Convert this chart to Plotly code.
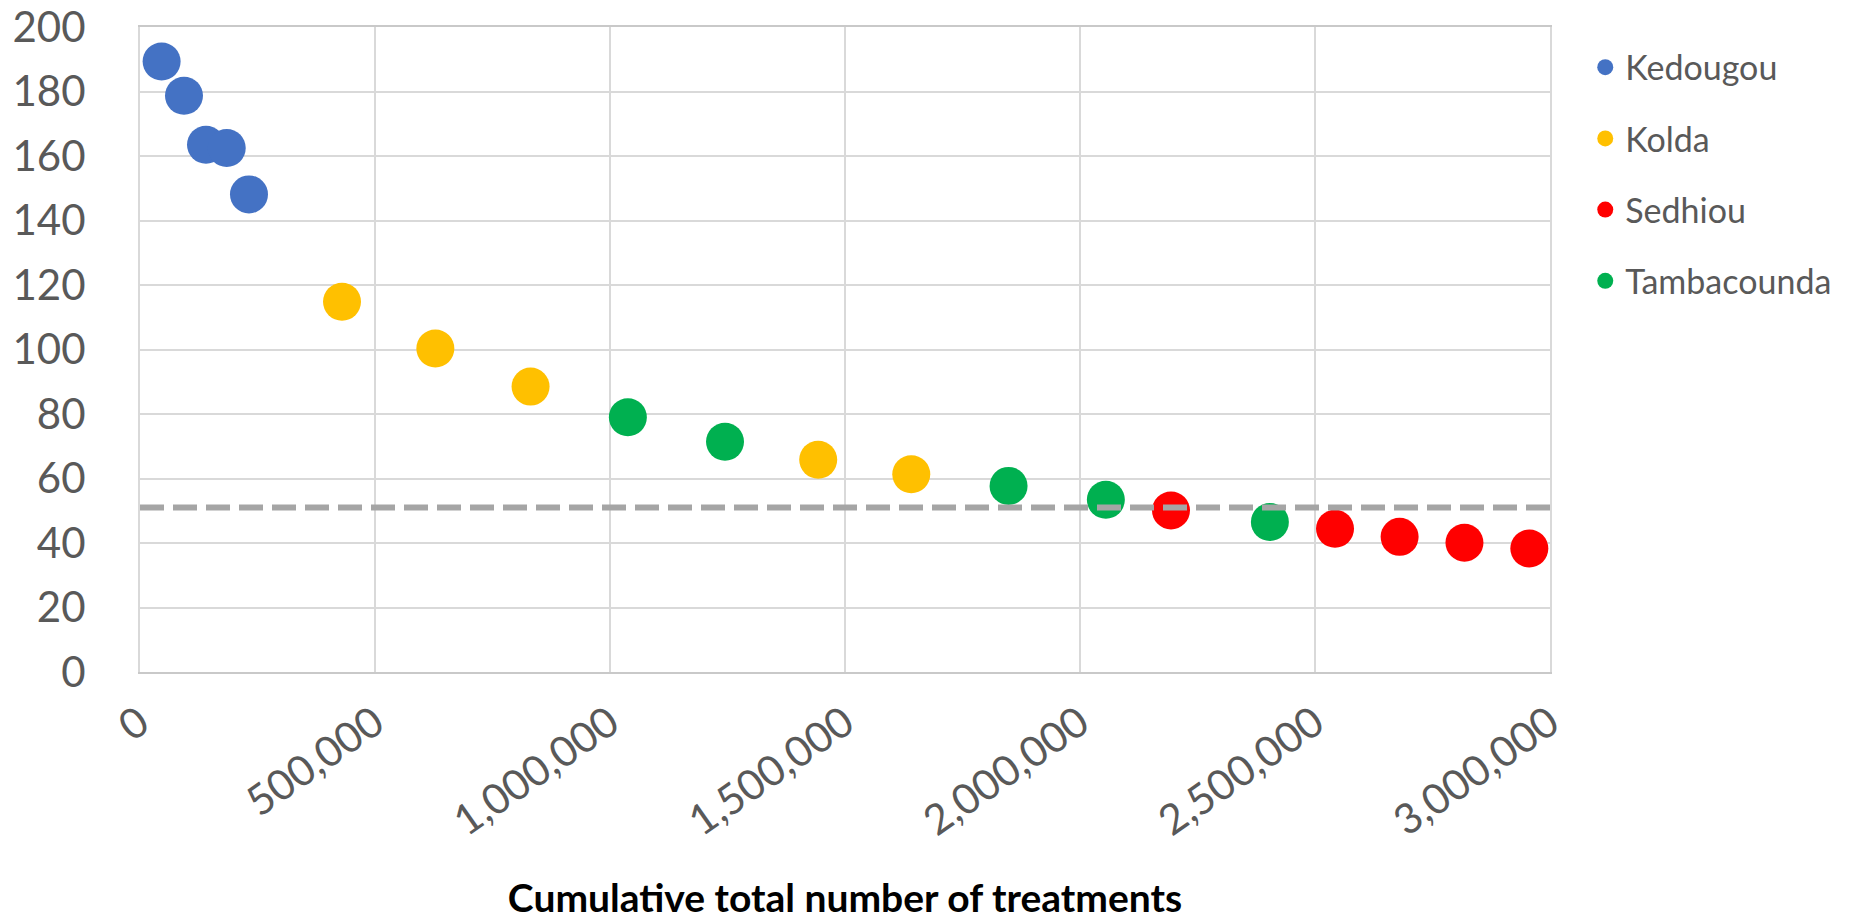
import plotly.graph_objects as go

# Cumulative treatments (x) and value per district (y)
kedougou_x = [46000, 93600, 140400, 184500, 231900]
kedougou_y = [189.3, 178.7, 163.5, 162.5, 148.1]

kolda_x = [429800, 628400, 831000, 1443000, 1641000]
kolda_y = [114.8, 100.3, 88.5, 65.8, 61.3]

sedhiou_x = [2193600, 2542600, 2680000, 2818000, 2956000]
sedhiou_y = [50.1, 44.4, 41.9, 40.1, 38.3]

tamba_x = [1038000, 1244700, 1848000, 2055000, 2404000]
tamba_y = [79.0, 71.4, 57.7, 53.4, 46.5]

threshold_x = [0, 3000000]
threshold_y = [51, 51]

x_ticks = [0, 500000, 1000000, 1500000, 2000000, 2500000, 3000000]
y_ticks = [0, 20, 40, 60, 80, 100, 120, 140, 160, 180, 200]

FONT = "Lato"
TEXT = "#595959"
GRID = "#D9D9D9"

series = [
    ("Kedougou", kedougou_x, kedougou_y, "#4472C4"),
    ("Kolda", kolda_x, kolda_y, "#FFC000"),
    ("Sedhiou", sedhiou_x, sedhiou_y, "#FF0000"),
    ("Tambacounda", tamba_x, tamba_y, "#00B050"),
]

fig = go.Figure()
for name, xs, ys, color in series:
    fig.add_trace(go.Scatter(
        x=xs, y=ys, name=name, mode="markers", legendgroup=name,
        marker=dict(size=38, color=color, line=dict(width=0)),
    ))

# Reference level drawn on top of the markers
fig.add_trace(go.Scatter(
    x=threshold_x, y=threshold_y, mode="lines", showlegend=False,
    line=dict(color="#A5A5A5", width=6, dash="24px,9px"),
    hoverinfo="skip",
))

fig.update_layout(
    width=1850, height=920,
    margin=dict(l=140, r=300, t=27, b=248, autoexpand=False),
    plot_bgcolor="white", paper_bgcolor="white",
    font=dict(family=FONT, color=TEXT),
    legend=dict(
        x=1.025, xanchor="left", y=0.982, yanchor="top",
        font=dict(size=34, color=TEXT, family=FONT),
        tracegroupgap=24, itemsizing="trace",
        bgcolor="rgba(0,0,0,0)",
    ),
    xaxis=dict(
        range=[0, 3000000], tickvals=x_ticks, tickformat=",",
        tickangle=-35, ticklabelstandoff=8, automargin=False,
        tickfont=dict(size=42, color=TEXT, family=FONT),
        showgrid=True, gridcolor=GRID, gridwidth=2,
        showline=True, linecolor="#C9C9C9", linewidth=2, mirror=True,
        zeroline=False, ticks="",
        title=dict(text="<b>Cumulative total number of treatments</b>",
                   font=dict(size=39, color="black", family=FONT), standoff=58),
    ),
    yaxis=dict(
        range=[0, 200], tickvals=y_ticks, automargin=False,
        tickfont=dict(size=42, color=TEXT, family=FONT),
        ticklabelstandoff=44,
        showgrid=True, gridcolor=GRID, gridwidth=2,
        showline=True, linecolor=GRID, linewidth=2, mirror=True,
        zeroline=False, ticks="",
    ),
)

fig.write_html("out.html")
